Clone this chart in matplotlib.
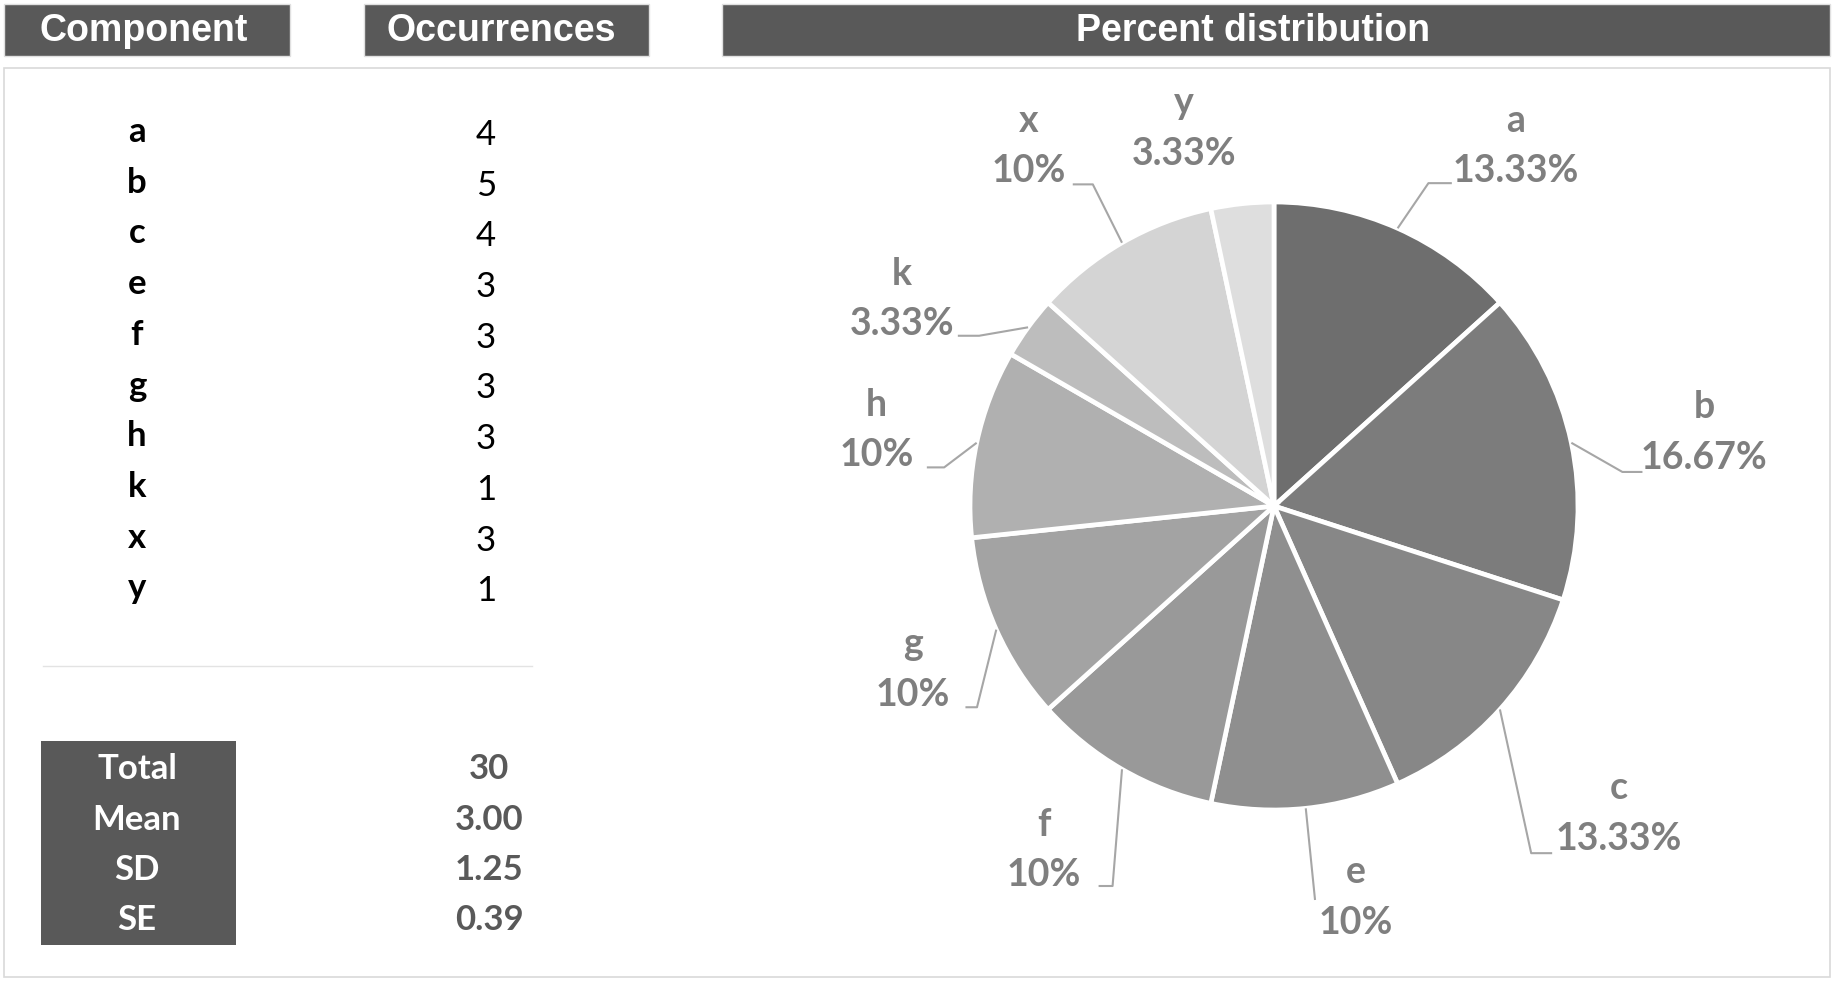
import numpy as np
import matplotlib
matplotlib.use("Agg")
import matplotlib.pyplot as plt
from matplotlib.patches import Rectangle

# data
components = ['a', 'b', 'c', 'e', 'f', 'g', 'h', 'k', 'x', 'y']
occurrences = [4, 5, 4, 3, 3, 3, 3, 1, 3, 1]
slice_colors = ['#6e6e6e', '#7c7c7c', '#878787', '#8f8f8f', '#999999',
                '#a3a3a3', '#b0b0b0', '#bdbdbd', '#d4d4d4', '#dedede']

# label layout around the pie (radius units): label centre, leader elbow, leader end
label_pos = [(0.796, 1.185), (1.415, 0.242), (1.135, -1.012), (0.27, -1.288),
             (-0.758, -1.131), (-1.188, -0.538), (-1.308, 0.25), (-1.223, 0.681),
             (-0.808, 1.185), (-0.296, 1.242)]
leader_elbow = [(0.508, 1.062), (1.146, 0.112), (0.846, -1.142), None,
                (-0.531, -1.25), (-0.977, -0.662), (-1.085, 0.127), (-0.97, 0.56),
                (-0.596, 1.058), None]
leader_end = [(0.585, 1.062), (1.212, 0.112), (0.915, -1.142), (0.135, -1.296),
              (-0.577, -1.25), (-1.015, -0.662), (-1.142, 0.127), (-1.04, 0.56),
              (-0.662, 1.058), None]

vals = np.array(occurrences, dtype=float)
total = vals.sum()
mean = vals.mean()
sd = vals.std(ddof=1)
se = sd / np.sqrt(len(vals))
stat_names = ['Total', 'Mean', 'SD', 'SE']
stat_vals = [f"{total:.0f}", f"{mean:.2f}", f"{sd:.2f}", f"{se:.2f}"]

W, H = 1833, 981
fig = plt.figure(figsize=(W / 100, H / 100), dpi=100)
fig.patch.set_facecolor('white')

base = fig.add_axes([0, 0, 1, 1])
base.set_xlim(0, W)
base.set_ylim(H, 0)
base.axis('off')

dark = '#595959'
head_font = 'Liberation Sans'
body_font = 'Lato'

# frame
base.add_patch(Rectangle((4, 68), 1826, 909, facecolor='white', edgecolor='#d9d9d9', lw=1.2))

# header boxes (text sits a bit left of centre, as in the original)
for x0, x1, tx, txt in [(4, 290, 144, 'Component'), (364, 649, 501, 'Occurrences'),
                        (722, 1830, 1253, 'Percent distribution')]:
    base.add_patch(Rectangle((x0, 4), x1 - x0, 52, facecolor=dark, edgecolor='#e0e0e0', lw=1))
    base.text(tx, 31, txt, color='white', fontsize=27, fontweight='bold',
              family=head_font, ha='center', va='center')

# component rows
for i, (c, v) in enumerate(zip(components, occurrences)):
    y = 132 + i * 50.7
    base.text(137, y, c, fontsize=25, fontweight='bold', family=body_font,
              ha='center', va='center', color='black')
    base.text(486, y + 3, str(v), fontsize=25, family=body_font,
              ha='center', va='center', color='black')

# separator
base.plot([43, 532], [666, 666], color='#e3e3e3', lw=1)

# stats box
base.add_patch(Rectangle((41, 741), 195, 204, facecolor=dark, edgecolor='none'))
for i, (n, s) in enumerate(zip(stat_names, stat_vals)):
    y = 769 + i * 50.5
    base.text(137, y, n, fontsize=25, fontweight='bold', family=body_font,
              ha='center', va='center', color='white')
    base.text(489, y, s, fontsize=25, fontweight='bold', family=body_font,
              ha='center', va='center', color=dark)

# pie
cx, cy, r = 1274, 506, 304
span = 1.6
pw = span * r
ax = fig.add_axes([(cx - pw) / W, (H - cy - pw) / H, 2 * pw / W, 2 * pw / H])
ax.patch.set_alpha(0)
ax.pie(occurrences, colors=slice_colors, startangle=90, counterclock=False,
       wedgeprops=dict(edgecolor='white', linewidth=3.4))
ax.set_xlim(-span, span)
ax.set_ylim(-span, span)
ax.set_aspect('equal')
ax.axis('off')

pct = vals / total * 100
cum = np.cumsum(vals) - vals / 2
half = 0.083
for i, c in enumerate(components):
    p = f"{pct[i]:.2f}".rstrip('0').rstrip('.') + '%'
    lx, ly = label_pos[i]
    ax.text(lx, ly + half, c, fontsize=27, fontweight='bold', family=body_font,
            color='#7f7f7f', ha='center', va='center')
    ax.text(lx, ly - half, p, fontsize=27, fontweight='bold', family=body_font,
            color='#7f7f7f', ha='center', va='center')
    if leader_end[i] is None:
        continue
    ang = np.deg2rad(90 - cum[i] / total * 360)
    xs = [np.cos(ang)]
    ys = [np.sin(ang)]
    if leader_elbow[i] is not None:
        xs.append(leader_elbow[i][0])
        ys.append(leader_elbow[i][1])
    xs.append(leader_end[i][0])
    ys.append(leader_end[i][1])
    ax.plot(xs, ys, color='#a6a6a6', lw=1.5, solid_capstyle='butt')

fig.savefig('out.png', dpi=100)
